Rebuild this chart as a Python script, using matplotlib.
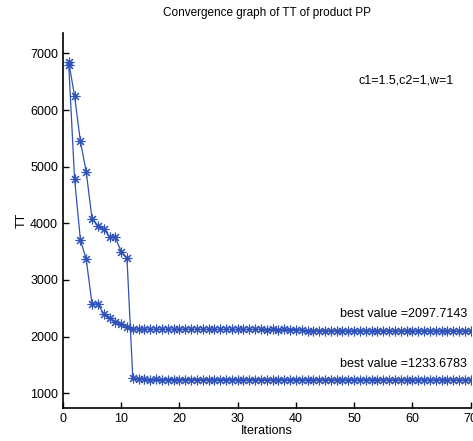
import matplotlib
matplotlib.use("Agg")
import matplotlib.pyplot as plt
import numpy as np

plt.rcParams['font.family'] = ['Liberation Sans', 'DejaVu Sans']

iterations = list(range(1, 71))

# series ending at 1233.6783 (slow start, sudden drop at iteration 12)
slow_head = [6850, 6250, 5450, 4910, 4080, 3960, 3900, 3765, 3755, 3500, 3380, 1265, 1250]
slow_tail = [1245, 1240, 1242, 1238, 1240, 1241, 1238, 1240, 1239, 1240, 1238, 1240,
             1239, 1238, 1240, 1238, 1239, 1237, 1238, 1239, 1237, 1238, 1236, 1238,
             1237, 1236, 1238, 1237, 1236, 1235, 1237, 1236, 1235, 1236, 1235, 1236,
             1235, 1234, 1236, 1235, 1234, 1235, 1234, 1235, 1234, 1234, 1235, 1234,
             1234, 1234, 1234, 1234, 1234, 1233.6783, 1233.6783, 1233.6783, 1233.6783]
slow_series = slow_head + slow_tail

# series ending at 2097.7143 (fast start)
fast_head = [6800, 4790, 3707, 3367, 2578, 2578, 2400, 2325, 2250, 2220, 2167, 2137]
fast_mid = [2132, 2130, 2130, 2129, 2130, 2128, 2129, 2128, 2130, 2128, 2127, 2128,
            2129, 2127, 2128, 2127, 2126, 2127, 2128, 2126, 2127, 2126, 2125, 2126,
            2125, 2126, 2125, 2124]
fast_tail = [2110, 2104, 2102, 2100, 2101, 2099, 2100, 2099, 2098, 2099, 2098, 2098,
             2099, 2098, 2098, 2098, 2097.7143, 2097.7143, 2097.7143, 2097.7143,
             2097.7143, 2097.7143, 2097.7143, 2097.7143, 2097.7143, 2097.7143,
             2097.7143, 2097.7143, 2097.7143, 2097.7143]
fast_series = fast_head + fast_mid + fast_tail

xticks = [0, 10, 20, 30, 40, 50, 60, 70]
yticks = [1000, 2000, 3000, 4000, 5000, 6000, 7000]

fig = plt.figure(figsize=(4.73, 4.41), dpi=100)
ax = fig.add_axes([0.133, 0.075, 0.862, 0.850])

color = '#2f52b8'
asterisk = (8, 2, 0)
ax.plot(iterations, slow_series, color=color, lw=0.9, marker=asterisk, ms=7, mew=0.8)
ax.plot(iterations, fast_series, color=color, lw=0.9, marker=asterisk, ms=7, mew=0.8)

ax.set_xlim(0, 70)
ax.set_ylim(740, 7360)
ax.set_xticks(xticks)
ax.set_yticks(yticks)
ax.tick_params(direction='in', length=4, labelsize=9, width=1)
for s in ['top', 'right']:
    ax.spines[s].set_visible(False)
for s in ['left', 'bottom']:
    ax.spines[s].set_linewidth(1.2)

ax.set_title('Convergence graph of TT of product PP', fontsize=8.5, pad=12)
ax.set_xlabel('Iterations', fontsize=9, labelpad=0)
ax.set_ylabel('TT', fontsize=9, labelpad=2)

ax.text(50.8, 6530, 'c1=1.5,c2=1,w=1', fontsize=9, va='center', ha='left')
ax.text(47.6, 2400, 'best value =2097.7143', fontsize=9, va='center', ha='left')
ax.text(47.6, 1520, 'best value =1233.6783', fontsize=9, va='center', ha='left')

fig.savefig('out.png', dpi=100)
